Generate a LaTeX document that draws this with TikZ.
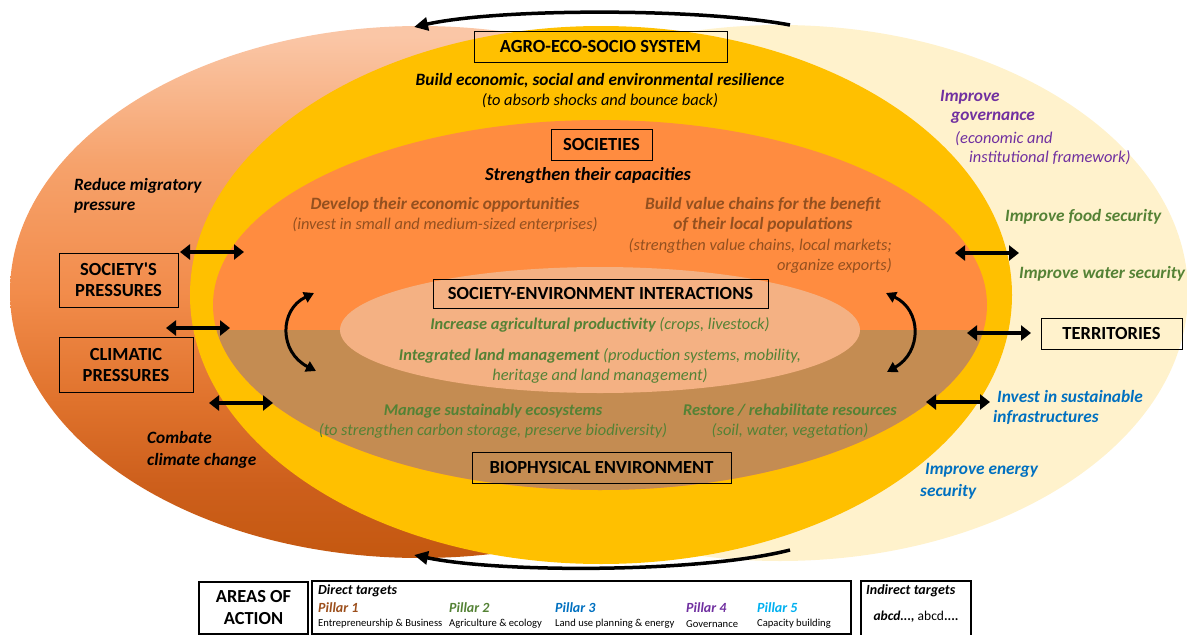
\documentclass[tikz,border=0pt]{standalone}
\usepackage{fontspec}
\setmainfont{Carlito}
\usetikzlibrary{arrows.meta}
\definecolor{cream}{HTML}{FFF2CC}
\definecolor{gold}{HTML}{FFC000}
\definecolor{socorange}{HTML}{FF8C40}
\definecolor{biobrown}{HTML}{C48C52}
\definecolor{innerpeach}{HTML}{F4B183}
\definecolor{lcA}{HTML}{C45810}
\definecolor{lcB}{HTML}{CD5F1C}
\definecolor{lcC}{HTML}{E0732D}
\definecolor{lcD}{HTML}{F28C4B}
\definecolor{lcE}{HTML}{F6A26B}
\definecolor{lcF}{HTML}{FAC6A6}
\definecolor{tbrown}{HTML}{94501F}
\definecolor{tgreen}{HTML}{548235}
\definecolor{tpurple}{HTML}{7030A0}
\definecolor{tblue}{HTML}{0070C0}
\definecolor{tcyan}{HTML}{00B0F0}
\definecolor{pbrown}{HTML}{9C4F1C}
\pgfdeclareverticalshading{leftgrad}{100bp}{color(0bp)=(lcA); color(25bp)=(lcA); color(32bp)=(lcB); color(40bp)=(lcC); color(50bp)=(lcD); color(62bp)=(lcE); color(74bp)=(lcF); color(100bp)=(lcF)}
\newcommand{\fsz}[2]{\fontsize{#1pt}{#2pt}\selectfont}
\tikzset{
  boxlbl/.style={draw=black, line width=0.9pt, inner sep=0pt, align=center, font=\bfseries\fsz{18.5}{21}},
  bitxt/.style={font=\bfseries\itshape\fsz{17.3}{20.5}, inner sep=0pt, align=center},
  itxt/.style={font=\itshape\fsz{16.4}{20}, inner sep=0pt, align=center},
  dblarrow/.style={line width=4pt, {Triangle[length=10pt,width=15pt]}-{Triangle[length=10pt,width=15pt]}},
  curvarrow/.style={line width=3pt, {Triangle[length=10pt,width=11pt]}-{Triangle[length=10pt,width=11pt]}},
  looparrow/.style={line width=3.5pt, -{Triangle[length=14pt,width=13pt]}},
  legbox/.style={draw=black, line width=1.8pt},
  pillar/.style={font=\bfseries\itshape\fsz{14}{16}, inner sep=0pt, anchor=west},
  pdesc/.style={font=\fsz{10.6}{12}, inner sep=0pt, anchor=west}
}
\begin{document}
\begin{tikzpicture}[x=1pt,y=-1pt]
\useasboundingbox (0,0) rectangle (1187,635);
% background shapes
\fill[cream] (780,293) ellipse [x radius=408pt, y radius=268pt];
\shade[shading=leftgrad] (420,292) ellipse [x radius=410pt, y radius=266pt];
\fill[gold] (601,295) ellipse [x radius=411pt, y radius=269pt];
\fill[socorange] (600,305) ellipse [x radius=387pt, y radius=185pt];
\begin{scope}
  \clip (0,330) rectangle (1187,635);
  \fill[biobrown] (600,305) ellipse [x radius=387pt, y radius=185pt];
\end{scope}
\fill[innerpeach] (600,330) ellipse [x radius=260pt, y radius=63pt];

% loop arrows top and bottom
\coordinate (topR) at (790,25);
\coordinate (topL) at (414,27);
\coordinate (botR) at (790,550);
\coordinate (botL) at (414,555);
\draw[looparrow] (topR) .. controls (700,8) and (500,8) .. (topL);
\draw[looparrow] (botR) .. controls (700,573) and (500,573) .. (botL);

% main boxes
\node[boxlbl, minimum width=253pt, minimum height=31pt] (agro) at (600.5,46.5) {AGRO-ECO-SOCIO SYSTEM};
\node[bitxt] (resil) at (600,81) {Build economic, social and environmental resilience};
\node[itxt] (absorb) at (600,101) {(to absorb shocks and bounce back)};

\node[boxlbl, minimum width=101pt, minimum height=31pt] (soc) at (601.5,144.5) {SOCIETIES};
\node[bitxt, font=\bfseries\itshape\fsz{18.5}{21}] (strength) at (588,176) {Strengthen their capacities};
\node[bitxt, text=tbrown] (develop) at (445,205) {Develop their economic opportunities};
\node[itxt, text=tbrown] (invest) at (445,225) {(invest in small and medium-sized enterprises)};
\node[bitxt, text=tbrown] (valuech) at (763,215) {Build value chains for the benefit\\of their local populations};
\node[itxt, text=tbrown, align=right, anchor=east] (valuesub) at (892,256) {(strengthen value chains, local markets;\\organize exports)};

\node[boxlbl, minimum width=335pt, minimum height=29pt] (sei) at (600.5,293.5) {SOCIETY-ENVIRONMENT INTERACTIONS};
\node[itxt, text=tgreen] (agri) at (600,325) {\textbf{Increase agricultural productivity} (crops, livestock)};
\node[itxt, text=tgreen] (land) at (600,366) {\textbf{Integrated land management} (production systems, mobility,\\heritage and land management)};
\node[itxt, text=tgreen] (manage) at (493,421) {\textbf{Manage sustainably ecosystems}\\(to strengthen carbon storage, preserve biodiversity)};
\node[itxt, text=tgreen] (restore) at (790,421) {\textbf{Restore / rehabilitate resources}\\(soil, water, vegetation)};
\node[boxlbl, minimum width=259pt, minimum height=31pt] (bio) at (601.5,467.5) {BIOPHYSICAL ENVIRONMENT};

% left side
\node[bitxt, align=left, anchor=west] (migr) at (74,196) {Reduce migratory\\pressure};
\node[boxlbl, minimum width=119pt, minimum height=54pt] (socp) at (118.5,280) {SOCIETY\textquotesingle S\\PRESSURES};
\node[boxlbl, minimum width=134pt, minimum height=55pt] (climp) at (126,364.5) {CLIMATIC\\PRESSURES};
\node[bitxt, align=left, anchor=west, font=\bfseries\itshape\fsz{17.3}{22}] (combat) at (147,450) {Combate\\climate change};

% right side
\node[bitxt, text=tpurple, anchor=west] (gov1) at (940,97) {Improve};
\node[bitxt, text=tpurple, anchor=west] (gov2) at (951,118) {governance};
\node[itxt, text=tpurple, anchor=west] (gov3) at (955,139) {(economic and};
\node[itxt, text=tpurple, anchor=west] (gov4) at (969,158) {institutional framework)};
\node[bitxt, text=tgreen, anchor=west] (food) at (1005,217) {Improve food security};
\node[bitxt, text=tgreen, anchor=west] (water) at (1019,274) {Improve water security};
\node[boxlbl, minimum width=141pt, minimum height=31pt] (terr) at (1111.5,333.5) {TERRITORIES};
\node[bitxt, text=tblue, anchor=west] (inf1) at (997,396) {Invest in sustainable};
\node[bitxt, text=tblue, anchor=west] (inf2) at (993,417) {infrastructures};
\node[bitxt, text=tblue, anchor=west] (en1) at (925,470) {Improve energy};
\node[bitxt, text=tblue, anchor=west] (en2) at (920,492) {security};

% double arrows
\coordinate (la1) at (180,252); \coordinate (lb1) at (244,252);
\coordinate (la2) at (166,328); \coordinate (lb2) at (230,328);
\coordinate (la3) at (209,403); \coordinate (lb3) at (273,403);
\coordinate (ra1) at (955,253); \coordinate (rb1) at (1019,253);
\coordinate (ra2) at (967,333); \coordinate (rb2) at (1031,333);
\coordinate (ra3) at (926,402); \coordinate (rb3) at (990,402);
\draw[dblarrow] (la1) -- (lb1);
\draw[dblarrow] (la2) -- (lb2);
\draw[dblarrow] (la3) -- (lb3);
\draw[dblarrow] (ra1) -- (rb1);
\draw[dblarrow] (ra2) -- (rb2);
\draw[dblarrow] (ra3) -- (rb3);

% curved arrows
\coordinate (cl1) at (314,293); \coordinate (cl2) at (316,371);
\coordinate (cr1) at (886,293); \coordinate (cr2) at (887,372);
\draw[curvarrow] (cl1) .. controls (279,310) and (279,352) .. (cl2);
\draw[curvarrow] (cr1) .. controls (922,310) and (922,352) .. (cr2);

% legend
\node[draw=black, line width=1.4pt, minimum width=109pt, minimum height=52pt, inner sep=0pt, align=center, font=\bfseries\fsz{18.4}{22}] (areas) at (253.5,608) {AREAS OF\\ACTION};
\node[legbox, minimum width=539pt, minimum height=53pt, inner sep=0pt] (direct) at (581.5,607.5) {};
\node[font=\bfseries\itshape\fsz{13.9}{16}, inner sep=0pt, anchor=west] (dirt) at (318,591) {Direct targets};
\node[pillar, text=pbrown] (p1) at (318,608) {Pillar 1};
\node[pillar, text=tgreen] (p2) at (449,608) {Pillar 2};
\node[pillar, text=tblue] (p3) at (555,608) {Pillar 3};
\node[pillar, text=tpurple] (p4) at (686,608) {Pillar 4};
\node[pillar, text=tcyan] (p5) at (757,608) {Pillar 5};
\node[pdesc] (d1) at (318,624) {Entrepreneurship \& Business};
\node[pdesc] (d2) at (449,624) {Agriculture \& ecology};
\node[pdesc] (d3) at (555,624) {Land use planning \& energy};
\node[pdesc] (d4) at (686,624) {Governance};
\node[pdesc] (d5) at (757,624) {Capacity building};
\node[legbox, minimum width=110pt, minimum height=55pt, inner sep=0pt] (indirect) at (916,608.5) {};
\node[font=\bfseries\itshape\fsz{14}{16}, inner sep=0pt, anchor=west] (indt) at (866,591) {Indirect targets};
\node[font=\fsz{13.5}{16}, inner sep=0pt] (abcd) at (916,617) {\textbf{\textit{abcd...,}} abcd\textbf{....}};
\end{tikzpicture}
\end{document}
